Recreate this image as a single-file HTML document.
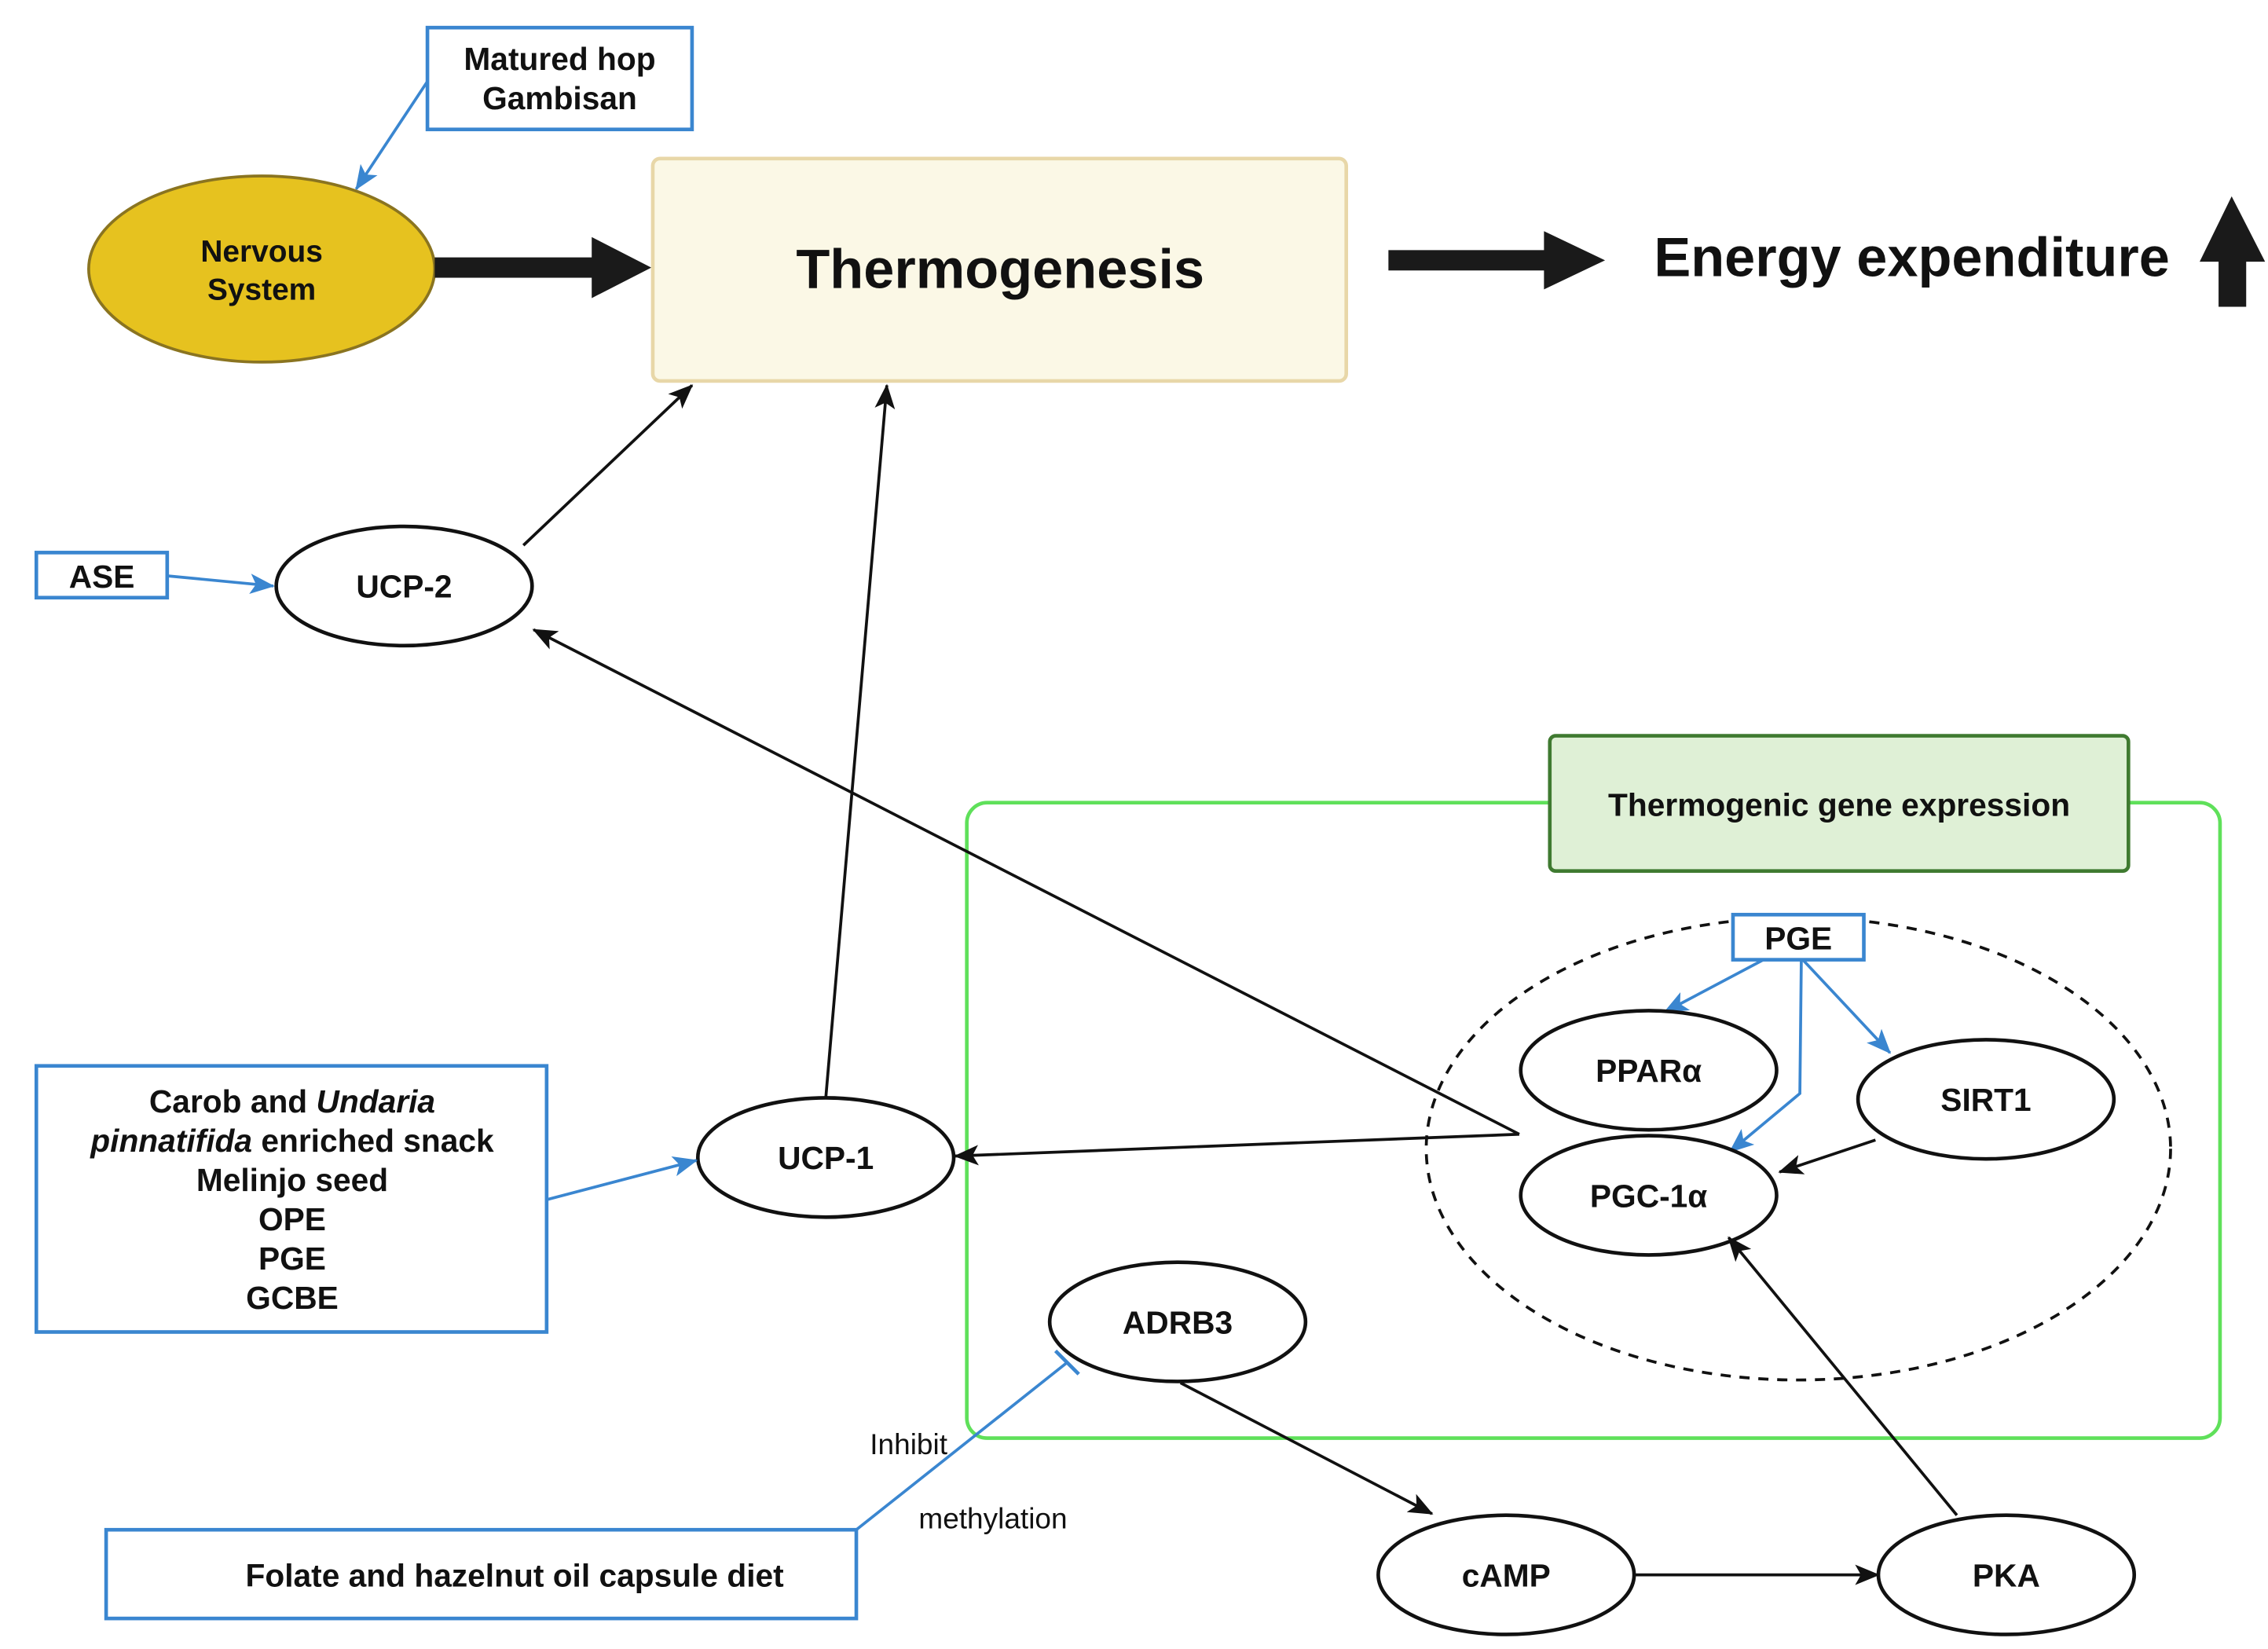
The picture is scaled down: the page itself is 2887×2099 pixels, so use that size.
<!DOCTYPE html>
<html><head><meta charset="utf-8"><style>
html,body{margin:0;padding:0;background:#fff}
svg{display:block}
text{font-family:"Liberation Sans",Arial,sans-serif;font-weight:bold;fill:#111;text-anchor:middle}
</style></head><body>
<svg width="2887" height="2099" viewBox="0 0 1560 1134" preserveAspectRatio="none" xmlns="http://www.w3.org/2000/svg">
<defs>
<marker id="ak" markerWidth="18" markerHeight="14" refX="16" refY="7" orient="auto" markerUnits="userSpaceOnUse"><path d="M0,0 L17,7 L0,14 L4,7 Z" fill="#111"/></marker>
<marker id="ab" markerWidth="18" markerHeight="14" refX="16" refY="7" orient="auto" markerUnits="userSpaceOnUse"><path d="M0,0 L17,7 L0,14 L4,7 Z" fill="#3a86d0"/></marker>
</defs>
<rect x="294" y="19" width="182" height="70" fill="#fff" stroke="#3a86d0" stroke-width="2.5"/>
<text x="385" y="48" font-size="22">Matured hop</text>
<text x="385" y="75" font-size="22">Gambisan</text>
<line x1="294" y1="56" x2="245" y2="130" stroke="#3a86d0" stroke-width="2" marker-end="url(#ab)"/>
<ellipse cx="180" cy="185" rx="119" ry="64" fill="#e6c21f" stroke="#8a7420" stroke-width="2"/>
<text x="180" y="180" font-size="21">Nervous</text>
<text x="180" y="206" font-size="21">System</text>
<rect x="299" y="177" width="112" height="14" fill="#1a1a1a"/>
<path d="M407,163 L448,184 L407,205 Z" fill="#1a1a1a"/>
<rect x="449" y="109" width="477" height="153" rx="5" fill="#fbf8e6" stroke="#e8d7a8" stroke-width="2.5"/>
<text x="688" y="198" font-size="38">Thermogenesis</text>
<rect x="955" y="172" width="110" height="14" fill="#1a1a1a"/>
<path d="M1062,159 L1104,179 L1062,199 Z" fill="#1a1a1a"/>
<text x="1315" y="190" font-size="38">Energy expenditure</text>
<path d="M1535,135 L1558,180 L1545,180 L1545,211 L1526,211 L1526,180 L1513,180 Z" fill="#1a1a1a"/>
<rect x="25" y="380" width="90" height="31" fill="#fff" stroke="#3a86d0" stroke-width="2.5"/>
<text x="70" y="404" font-size="22">ASE</text>
<line x1="115" y1="396" x2="188" y2="403" stroke="#3a86d0" stroke-width="2" marker-end="url(#ab)"/>
<ellipse cx="278" cy="403" rx="88" ry="41" fill="#fff" stroke="#111" stroke-width="2.5"/>
<text x="278" y="411" font-size="22">UCP-2</text>
<line x1="360" y1="375" x2="476" y2="265" stroke="#111" stroke-width="2" marker-end="url(#ak)"/>
<rect x="665" y="552" width="862" height="437" rx="14" fill="none" stroke="#5fe05a" stroke-width="2.5"/>
<rect x="1066" y="506" width="398" height="93" rx="4" fill="#dff0d6" stroke="#3f7a30" stroke-width="2.5"/>
<text x="1265" y="561" font-size="22">Thermogenic gene expression</text>
<ellipse cx="1237" cy="790" rx="256" ry="159" fill="none" stroke="#111" stroke-width="2" stroke-dasharray="7,6"/>
<line x1="568" y1="755" x2="610" y2="265" stroke="#111" stroke-width="2" marker-end="url(#ak)"/>
<line x1="1045" y1="780" x2="367" y2="433" stroke="#111" stroke-width="2" marker-end="url(#ak)"/>
<line x1="1045" y1="780" x2="657" y2="795" stroke="#111" stroke-width="2" marker-end="url(#ak)"/>
<rect x="1192" y="629" width="90" height="31" fill="#fff" stroke="#3a86d0" stroke-width="2.5"/>
<text x="1237" y="653" font-size="22">PGE</text>
<line x1="1213" y1="660" x2="1145" y2="696" stroke="#3a86d0" stroke-width="2" marker-end="url(#ab)"/>
<line x1="1240" y1="660" x2="1300" y2="724" stroke="#3a86d0" stroke-width="2" marker-end="url(#ab)"/>
<polyline points="1239,660 1238,752 1190,792" fill="none" stroke="#3a86d0" stroke-width="2" marker-end="url(#ab)"/>
<ellipse cx="1134" cy="736" rx="88" ry="41" fill="#fff" stroke="#111" stroke-width="2.5"/>
<text x="1134" y="744" font-size="22">PPARα</text>
<ellipse cx="1366" cy="756" rx="88" ry="41" fill="#fff" stroke="#111" stroke-width="2.5"/>
<text x="1366" y="764" font-size="22">SIRT1</text>
<ellipse cx="1134" cy="822" rx="88" ry="41" fill="#fff" stroke="#111" stroke-width="2.5"/>
<text x="1134" y="830" font-size="22">PGC-1α</text>
<line x1="1290" y1="784" x2="1224" y2="806" stroke="#111" stroke-width="2" marker-end="url(#ak)"/>
<ellipse cx="568" cy="796" rx="88" ry="41" fill="#fff" stroke="#111" stroke-width="2.5"/>
<text x="568" y="804" font-size="22">UCP-1</text>
<rect x="25" y="733" width="351" height="183" fill="#fff" stroke="#3a86d0" stroke-width="2.5"/>
<text x="201" y="765" font-size="22">Carob and <tspan font-style="italic">Undaria</tspan></text>
<text x="201" y="792" font-size="22"><tspan font-style="italic">pinnatifida</tspan> enriched snack</text>
<text x="201" y="819" font-size="22">Melinjo seed</text>
<text x="201" y="846" font-size="22">OPE</text>
<text x="201" y="873" font-size="22">PGE</text>
<text x="201" y="900" font-size="22">GCBE</text>
<line x1="376" y1="825" x2="479" y2="798" stroke="#3a86d0" stroke-width="2" marker-end="url(#ab)"/>
<ellipse cx="810" cy="909" rx="88" ry="41" fill="#fff" stroke="#111" stroke-width="2.5"/>
<text x="810" y="917" font-size="22">ADRB3</text>
<line x1="812" y1="951" x2="985" y2="1041" stroke="#111" stroke-width="2" marker-end="url(#ak)"/>
<ellipse cx="1036" cy="1083" rx="88" ry="41" fill="#fff" stroke="#111" stroke-width="2.5"/>
<text x="1036" y="1091" font-size="22">cAMP</text>
<line x1="1124" y1="1083" x2="1292" y2="1083" stroke="#111" stroke-width="2" marker-end="url(#ak)"/>
<ellipse cx="1380" cy="1083" rx="88" ry="41" fill="#fff" stroke="#111" stroke-width="2.5"/>
<text x="1380" y="1091" font-size="22">PKA</text>
<line x1="1346" y1="1042" x2="1189" y2="851" stroke="#111" stroke-width="2" marker-end="url(#ak)"/>
<rect x="73" y="1052" width="516" height="61" fill="#fff" stroke="#3a86d0" stroke-width="2.5"/>
<text x="354" y="1091" font-size="22">Folate and hazelnut oil capsule diet</text>
<line x1="589" y1="1052" x2="734" y2="937" stroke="#3a86d0" stroke-width="2"/>
<line x1="726" y1="929" x2="742" y2="945" stroke="#3a86d0" stroke-width="2.5"/>
<text x="625" y="1000" font-size="20" style="font-weight:normal">Inhibit</text>
<text x="683" y="1051" font-size="20" style="font-weight:normal">methylation</text>
</svg>
</body></html>
